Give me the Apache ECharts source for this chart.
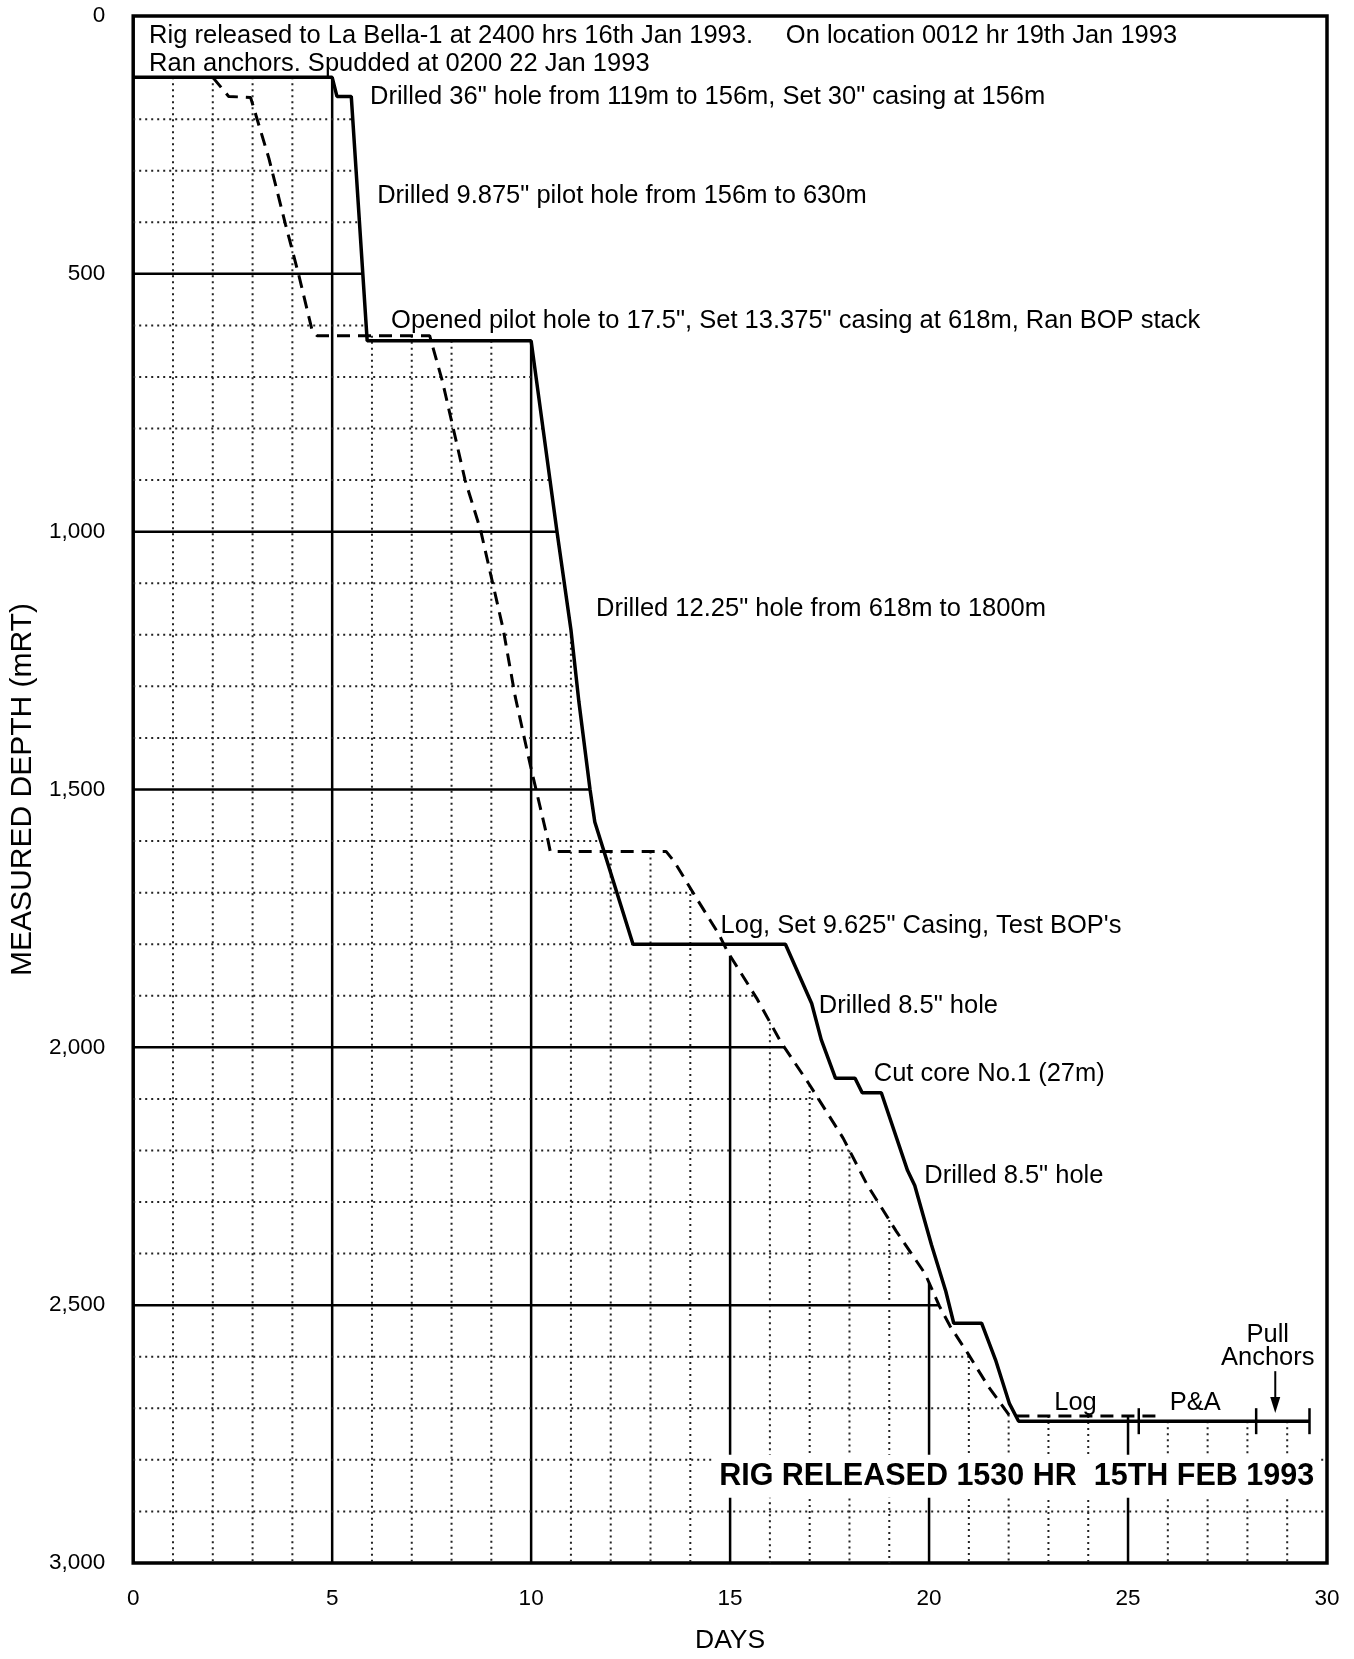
<!DOCTYPE html>
<html>
<head>
<meta charset="utf-8">
<title>La Bella-1 Time vs Depth</title>
<script src="https://cdn.jsdelivr.net/npm/echarts@6/dist/echarts.min.js"></script>
<style>
  html, body { margin: 0; padding: 0; background: #fff; }
  #chart { width: 1354px; height: 1659px; }
</style>
</head>
<body>
<div id="chart"></div>
<script>
// ---- Actual progress: days since rig release vs measured depth (m RT) ----
const actualDays  = [0, 5.0, 5.12, 5.48, 5.88, 10.0, 10.65, 11.0, 11.2, 11.48, 11.6, 12.56, 16.39, 17.05, 17.29, 17.65, 18.14, 18.32, 18.8, 19.46, 19.64, 20.06, 20.42, 20.62, 21.32, 21.67, 22.02, 22.25, 29.56];
const actualDepth = [119, 119, 156, 156, 630, 630, 1000, 1190, 1330, 1500, 1563, 1800, 1800, 1915, 1985, 2060, 2060, 2088, 2088, 2239, 2268, 2383, 2473, 2535, 2535, 2606, 2691, 2725, 2725];

// ---- Planned curve ----
const plannedDays  = [2.0, 2.4, 2.95, 3.41, 3.83, 4.16, 4.5, 4.62, 7.45, 7.77, 8.34, 8.73, 9.3, 9.6, 9.98, 10.43, 10.48, 13.39, 13.6, 14.1, 14.72, 14.94, 15.67, 16.27, 17.0, 17.84, 18.44, 19.17, 19.9, 20.26, 20.53, 20.97, 21.5, 22.03, 25.74];
const plannedDepth = [119, 156, 158, 276, 405, 502, 611, 620, 620, 708, 900, 997, 1190, 1320, 1453, 1601, 1620, 1620, 1640, 1704, 1781, 1815, 1905, 1989, 2073, 2176, 2266, 2356, 2439, 2502, 2541, 2593, 2659, 2715, 2715];

// ---- Phase boundaries on the final depth line (end of Log, end of P&A, end of anchor pulling) ----
const phaseDays = [25.27, 28.22, 29.56];

// ---- "Pull Anchors" pointer (day, from depth, to depth) ----
const anchorArrowDay = 28.7;
const anchorArrowDepths = [2628, 2709];

// ---- Axis tick labels ----
const dayTicks = ['0', '5', '10', '15', '20', '25', '30'];
const depthTicks = ['0', '500', '1,000', '1,500', '2,000', '2,500', '3,000'];

// ---- Chart paper grid (days and metres) ----
const gridDays = [1, 2, 3, 4, 5, 6, 7, 8, 9, 10, 11, 12, 13, 14, 15, 16, 17, 18, 19, 20, 21, 22, 23, 24, 25, 26, 27, 28, 29];
const gridDepths = [100, 200, 300, 400, 500, 600, 700, 800, 900, 1000, 1100, 1200, 1300, 1400, 1500, 1600, 1700, 1800, 1900, 2000, 2100, 2200, 2300, 2400, 2500, 2600, 2700, 2800, 2900];

// ---- Notes written on the chart: text, anchor (day, depth) ----
const notes = [
  { text: 'Rig released to La Bella-1 at 2400 hrs 16th Jan 1993.', day: 0.4, depth: 39 },
  { text: 'On location 0012 hr 19th Jan 1993', day: 16.4, depth: 39 },
  { text: 'Ran anchors. Spudded at 0200 22 Jan 1993', day: 0.4, depth: 93 },
  { text: 'Drilled 36" hole from 119m to 156m, Set 30" casing at 156m', day: 5.95, depth: 157 },
  { text: 'Drilled 9.875" pilot hole from 156m to 630m', day: 6.13, depth: 349 },
  { text: 'Opened pilot hole to 17.5", Set 13.375" casing at 618m, Ran BOP stack', day: 6.48, depth: 592 },
  { text: 'Drilled 12.25" hole from 618m to 1800m', day: 11.63, depth: 1150 },
  { text: 'Log, Set 9.625" Casing, Test BOP\'s', day: 14.76, depth: 1765 },
  { text: 'Drilled 8.5" hole', day: 17.23, depth: 1920 },
  { text: 'Cut core No.1 (27m)', day: 18.61, depth: 2052 },
  { text: 'Drilled 8.5" hole', day: 19.88, depth: 2250 },
  { text: 'Log', day: 23.68, depth: 2690, center: true },
  { text: 'P&A', day: 26.69, depth: 2690, center: true },
  { text: 'Pull', day: 28.51, depth: 2558, center: true },
  { text: 'Anchors', day: 28.51, depth: 2603, center: true },
  { text: 'RIG RELEASED 1530 HR  15TH FEB 1993', day: 22.2, depth: 2832, center: true, banner: true }
];

const FONT = '"Liberation Sans", Arial, Helvetica, sans-serif';

const actual = actualDays.map((d, i) => [d, actualDepth[i]]);
const planned = plannedDays.map((d, i) => [d, plannedDepth[i]]);

// depth of a curve at a given day (null outside its range)
function depthAt(curve, x) {
  if (x < curve[0][0] || x > curve[curve.length - 1][0]) return null;
  for (let i = 1; i < curve.length; i++) {
    const [x0, d0] = curve[i - 1], [x1, d1] = curve[i];
    if (x >= x0 && x <= x1) {
      if (x1 === x0) return Math.min(d0, d1);
      return d0 + (d1 - d0) * (x - x0) / (x1 - x0);
    }
  }
  return null;
}
// day at which a curve reaches a given depth (null if never)
function dayAt(curve, d) {
  for (let i = 1; i < curve.length; i++) {
    const [x0, d0] = curve[i - 1], [x1, d1] = curve[i];
    if (d1 > d0 && d >= d0 && d <= d1) return x0 + (x1 - x0) * (d - d0) / (d1 - d0);
  }
  return null;
}
// the paper grid is only ruled underneath the progress curves
function gridTop(x) {
  const a = depthAt(actual, x), p = depthAt(planned, x);
  if (x < 15) {
    const v = [a, p].filter(v => v != null);
    return v.length ? Math.min(...v) : null;
  }
  return p != null ? p : a;
}
function gridRight(d) {
  const a = dayAt(actual, d), p = dayAt(planned, d);
  if (d < 1800) {
    const v = [a, p].filter(v => v != null);
    return v.length ? Math.max(...v) : null;
  }
  if (p != null) return p;
  if (a != null) return a;
  return d > actualDepth[actualDepth.length - 1] ? 30 : null;
}

const verticalData = gridDays.map(d => [d, gridTop(d)]).filter(p => p[1] != null);
const horizontalData = gridDepths.map(d => [gridRight(d), d]).filter(p => p[0] != null);

function gridStyle(major) {
  return major
    ? { stroke: '#000', lineWidth: 2.5, fill: null }
    : { stroke: '#222', lineWidth: 2, lineDash: [2, 4], fill: null };
}

const chart = echarts.init(document.getElementById('chart'), null, { renderer: 'canvas' });

chart.setOption({
  animation: false,
  backgroundColor: '#fff',
  grid: {
    left: 131, right: 27, top: 16, bottom: 90,
    show: true, borderColor: '#000', borderWidth: 3.5, backgroundColor: 'transparent'
  },
  xAxis: {
    type: 'value', min: 0, max: 30, interval: 5,
    name: 'DAYS', nameLocation: 'middle', nameGap: 64,
    nameTextStyle: { fontSize: 26.5, color: '#000', fontFamily: FONT },
    axisLine: { show: false }, axisTick: { show: false }, splitLine: { show: false },
    axisLabel: {
      margin: 24, fontSize: 22.5, color: '#000', fontFamily: FONT,
      formatter: v => dayTicks[Math.round(v / 5)]
    }
  },
  yAxis: {
    type: 'value', inverse: true, min: 0, max: 3000, interval: 500,
    name: 'MEASURED DEPTH (mRT)', nameLocation: 'middle', nameGap: 90,
    nameTextStyle: { fontSize: 30, color: '#000', fontFamily: FONT },
    axisLine: { show: false }, axisTick: { show: false }, splitLine: { show: false },
    axisLabel: {
      margin: 28, fontSize: 22.5, color: '#000', fontFamily: FONT,
      formatter: v => depthTicks[Math.round(v / 500)]
    }
  },
  series: [
    {
      // vertical rulings of the paper
      type: 'custom', z: 1, silent: true,
      data: verticalData,
      renderItem: (params, api) => {
        const day = api.value(0);
        const a = api.coord([day, api.value(1)]);
        const b = api.coord([day, 3000]);
        return { type: 'line', shape: { x1: a[0], y1: a[1], x2: b[0], y2: b[1] }, style: gridStyle(day % 5 === 0) };
      }
    },
    {
      // horizontal rulings of the paper
      type: 'custom', z: 1, silent: true,
      data: horizontalData,
      renderItem: (params, api) => {
        const depth = api.value(1);
        const a = api.coord([0, depth]);
        const b = api.coord([api.value(0), depth]);
        return { type: 'line', shape: { x1: a[0], y1: a[1], x2: b[0], y2: b[1] }, style: gridStyle(depth % 500 === 0) };
      }
    },
    {
      name: 'Planned', type: 'line', z: 3, silent: true,
      data: planned, symbol: 'none', showSymbol: false,
      lineStyle: { color: '#000', width: 3, type: [13, 8] }
    },
    {
      name: 'Actual', type: 'line', z: 4, silent: true,
      data: actual, symbol: 'none', showSymbol: false,
      lineStyle: { color: '#000', width: 3.5 }
    },
    {
      // phase boundary ticks on the final depth line
      type: 'custom', z: 5, silent: true,
      data: phaseDays.map(d => [d, depthAt(actual, d)]),
      renderItem: (params, api) => {
        const p = api.coord([api.value(0), api.value(1)]);
        return { type: 'line', shape: { x1: p[0], y1: p[1] - 13, x2: p[0], y2: p[1] + 13 }, style: { stroke: '#000', lineWidth: 2.5 } };
      }
    },
    {
      // pointer under "Pull Anchors"
      type: 'custom', z: 5, silent: true,
      data: [[anchorArrowDay, anchorArrowDepths[0], anchorArrowDepths[1]]],
      renderItem: (params, api) => {
        const a = api.coord([api.value(0), api.value(1)]);
        const b = api.coord([api.value(0), api.value(2)]);
        return {
          type: 'group',
          children: [
            { type: 'line', shape: { x1: a[0], y1: a[1], x2: b[0], y2: b[1] - 10 }, style: { stroke: '#000', lineWidth: 2 } },
            { type: 'polygon', shape: { points: [[b[0] - 5, b[1] - 16], [b[0] + 5, b[1] - 16], [b[0], b[1]]] }, style: { fill: '#000' } }
          ]
        };
      }
    },
    {
      // written notes
      type: 'custom', z: 10, silent: true, clip: false,
      data: notes.map(n => [n.day, n.depth]),
      renderItem: (params, api) => {
        const n = notes[params.dataIndex];
        const p = api.coord([api.value(0), api.value(1)]);
        const style = {
          text: n.text, fill: '#000',
          fontFamily: FONT,
          fontSize: n.banner ? 30.5 : 25.5,
          fontWeight: n.banner ? 'bold' : 'normal',
          align: n.center ? 'center' : 'left',
          verticalAlign: 'middle'
        };
        if (n.banner) { style.backgroundColor = '#fff'; style.padding = [6, 6]; }
        return { type: 'text', x: p[0], y: p[1], style: style };
      }
    }
  ]
});
</script>
</body>
</html>
